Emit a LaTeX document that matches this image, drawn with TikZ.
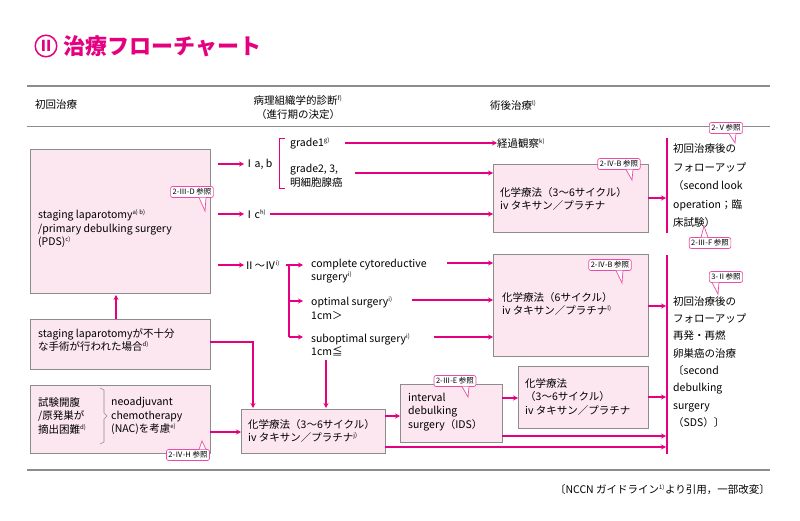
\documentclass[tikz,border=0pt]{standalone}
\usepackage{fontspec}
\setmainfont{Noto Sans CJK JP}
\usetikzlibrary{arrows.meta,positioning,calc}
\definecolor{mag}{HTML}{E4007F}
\definecolor{boxfill}{HTML}{FCE6EF}
\definecolor{rule}{HTML}{8C8C8C}
\tikzset{
  box/.style={draw=rule,fill=boxfill,line width=0.8pt},
  txt/.style={anchor=west,inner sep=0pt,font=\fontsize{10.5}{13.5}\selectfont,align=left},
  flow/.style={draw=mag,line width=1.3pt,-{Stealth[length=5pt,width=5pt]}},
  bar/.style={draw=mag,line width=2.6pt},
  ref/.style={draw=mag!70,fill=white,rounded corners=2pt,line width=0.7pt,inner sep=2pt,font=\fontsize{7.5}{8}\selectfont}
}
\newcommand{\nsup}[1]{\textsuperscript{\fontsize{6}{6}\selectfont #1}}
% callout with a tail below: name, centre, tail tip
\newcommand{\refnote}[4]{%
  \node[ref] (#1) at (#2) {#3};
  \fill[white,draw=mag!70,line width=0.7pt] ($(#4 |- #1.south)+(-6,-0.3)$) -- (#4) -- ($(#4 |- #1.south)+(1,-0.3)$);}
% callout with a tail above
\newcommand{\refnoteup}[4]{%
  \node[ref] (#1) at (#2) {#3};
  \fill[white,draw=mag!70,line width=0.7pt] ($(#4 |- #1.north)+(-3,0.3)$) -- (#4) -- ($(#4 |- #1.north)+(4,0.3)$);}
\begin{document}
\begin{tikzpicture}[x=1pt,y=-1pt]
\useasboundingbox (0,0) rectangle (800,521);

%title
\node[circle,draw=mag,line width=1.5pt,text=mag,inner sep=1pt,font=\bfseries\fontsize{15}{15}\selectfont] (tnum) at (46,46) {Ⅱ};
\node[anchor=west,text=mag,font=\bfseries\fontsize{22}{22}\selectfont] (title) at (60,46) {治療フローチャート};

%header
\draw[rule,line width=1.5pt] (27,86) -- (770,86);
\draw[rule,line width=0.6pt] (27,126) -- (770,126);
\node[txt] (h1) at (35,105) {初回治療};
\node[inner sep=0pt,align=center,font=\fontsize{10.5}{14}\selectfont] (h2) at (298,108) {病理組織学的診断\nsup{f)}\\（進行期の決定）};
\node[txt] (h3) at (490,105) {術後治療\nsup{l)}};

%left column
\draw[box] (30,149) rectangle (210,293);
\node[txt] (pds) at (38,229) {staging laparotomy\nsup{a) b)}\\/primary debulking surgery\\(PDS)\nsup{c)}};
\draw[box] (30,319) rectangle (210,369);
\node[txt] (incomp) at (38,340) {staging laparotomyが不十分\\な手術が行われた場合\nsup{d)}};
\draw[box] (30,385) rectangle (210,453);
\node[txt] (lap) at (38,416) {試験開腹\\/原発巣が\\摘出困難\nsup{d)}};
\draw[rule,line width=0.6pt] (100,388) -- (104,390) -- (104,413) -- (107,416) -- (104,419) -- (104,442) -- (100,444);
\node[txt] (nac) at (111,416) {neoadjuvant\\chemotherapy\\(NAC)を考慮\nsup{e)}};
\refnote{cD}{192,192}{2-Ⅲ-D 参照}{205,211}
\refnoteup{cH}{188,455}{2-Ⅳ-H 参照}{202,441}

%stage
\node[txt] (s1) at (244,164) {Ⅰa, b};
\node[txt] (s2) at (244,214) {Ⅰc\nsup{h)}};
\node[txt] (s3) at (244,265) {Ⅱ～Ⅳ\nsup{i)}};
\draw[flow] (218,164) -- (s1.west);
\draw[flow] (218,214) -- (s2.west);
\draw[flow] (218,265) -- (s3.west);
\draw[mag,line width=0.8pt] (285,138) -- (279,138) -- (279,188) -- (285,188);
\node[txt] (g1) at (290,143) {grade1\nsup{g)}};
\node[txt] (g2) at (290,176) {grade2, 3,\\明細胞腺癌};
\node[txt] (obs) at (497,143) {経過観察\nsup{k)}};
\draw[flow] (345,143) -- (obs.west);

\node[txt] (cc) at (311,271) {complete cytoreductive\\surgery\nsup{i)}};
\node[txt] (os) at (311,308) {optimal surgery\nsup{i)}\\1cm＞};
\node[txt] (ss) at (311,345) {suboptimal surgery\nsup{i)}\\1cm≦};
\draw[mag,line width=1.3pt] (286,265) -- (289,265) -- (289,337);
\draw[flow] (289,265) -- (303,265);
\draw[flow] (289,301) -- (303,301);
\draw[flow] (289,337) -- (303,337);

%chemotherapy boxes
\draw[box] (493,164) rectangle (648,232);
\node[txt] (ch1) at (500,199) {化学療法（3～6サイクル）\\iv タキサン／プラチナ};
\refnote{cB1}{619,164}{2-Ⅳ-B 参照}{632,180}
\draw[flow] (355,173) -- (493,173);
\draw[flow] (270,214) -- (493,214);

\draw[box] (493,254) rectangle (648,356);
\node[txt] (ch2) at (502,304) {化学療法（6サイクル）\\iv タキサン／プラチナ\nsup{l)}};
\refnote{cB2}{610,265}{2-Ⅳ-B 参照}{622,283}
\draw[flow] (447,263) -- (493,263);
\draw[flow] (412,300) -- (493,300);
\draw[flow] (434,337) -- (493,337);

\draw[box] (241,409) rectangle (385,453);
\node[txt] (ch3) at (248,431) {化学療法（3～6サイクル）\\iv タキサン／プラチナ\nsup{j)}};
\draw[box] (400,384) rectangle (502,442);
\node[txt] (ids) at (408,412) {interval\\debulking\\surgery（IDS）};
\refnote{cE}{455,381}{2-Ⅲ-E 参照}{468,397};
\draw[box] (518,366) rectangle (648,428);
\node[txt] (ch4) at (525,397) {化学療法\\（3～6サイクル）\\iv タキサン／プラチナ};

%flow among lower boxes
\draw[flow] (116,319) -- (116,295);
\draw[flow] (210,342) -- (253,342) -- (253,408);
\draw[flow] (326,360) -- (326,408);
\draw[flow] (210,432) -- (241,432);
\draw[flow] (385,416) -- (400,416);
\draw[flow] (502,398) -- (518,398);

%follow-up bars
\draw[bar] (667,138) -- (667,233);
\draw[bar] (667,255) -- (667,454);
\draw[flow] (648,198) -- (666,198);
\draw[flow] (648,306) -- (666,306);
\draw[flow] (648,397) -- (666,397);
\draw[flow] (502,436) -- (666,436);
\draw[flow] (385,447) -- (666,447);
\node[txt,font=\fontsize{10.5}{18.5}\selectfont] (fu1) at (673,186) {初回治療後の\\フォローアップ\\（second look\\operation；臨\\床試験）};
\refnote{cV}{726,128}{2-Ⅴ参照}{735,143}
\refnoteup{cF}{710,243}{2-Ⅲ-F 参照}{704,226}
\node[txt,font=\fontsize{10.5}{17.3}\selectfont] (fu2) at (673,362) {初回治療後の\\フォローアップ\\再発・再燃\\卵巣癌の治療\\〔second\\debulking\\surgery\\（SDS）〕};
\refnote{cII}{726,277}{3-Ⅱ参照}{718,294}

%footer
\draw[rule,line width=1.5pt] (27,470) -- (770,470);
\node[anchor=east,inner sep=0pt,font=\fontsize{10.5}{12}\selectfont] (cite) at (770,490) {〔NCCN ガイドライン\nsup{1)}より引用，一部改変〕};
\end{tikzpicture}
\end{document}
